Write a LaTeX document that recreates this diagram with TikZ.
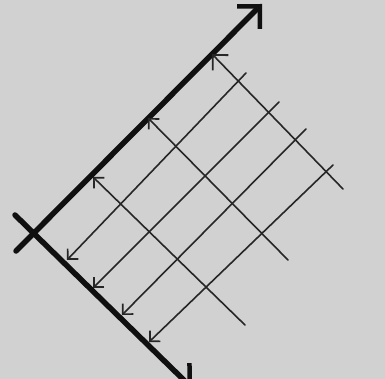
\documentclass[tikz,border=0pt]{standalone}
\usetikzlibrary{arrows.meta}
\definecolor{sketchpaper}{HTML}{D1D1D1}
\definecolor{sketchink}{HTML}{101010}
\definecolor{sketchpencil}{HTML}{262626}

\begin{document}
\begin{tikzpicture}[
    x=1pt, y=-1pt,
    axis/.style={line width=5.5pt, sketchink, line cap=round},
    proj/.style={line width=1.6pt, sketchpencil, line cap=round},
    tip/.style={-{Straight Barb[length=7.5pt, width=15pt, line width=1.7pt]}},
    bigtip/.style={-{Straight Barb[length=16pt, width=32pt, line width=4.5pt]}},
]

% sheet of paper
\fill[sketchpaper] (0,0) rectangle (385,379);
\clip (0,0) rectangle (385,379);

% the two axes
\coordinate (ustart) at (16,251);
\coordinate (uend)   at (262,4);
\coordinate (vstart) at (15,215);
\coordinate (vend)   at (192,388);
\draw[axis, bigtip] (ustart) -- (uend);
\draw[axis, bigtip] (vstart) -- (vend);

% feet on the lower axis, and where their lines stop
\coordinate (a1) at (67,260);  \coordinate (a1e) at (246,73);
\coordinate (a2) at (93,288);  \coordinate (a2e) at (279,102);
\coordinate (a3) at (122,315); \coordinate (a3e) at (306,129);
\coordinate (a4) at (149,342); \coordinate (a4e) at (333,165);

% feet on the upper axis, and where their lines stop
\coordinate (b1) at (93,177);  \coordinate (b1e) at (245,325);
\coordinate (b2) at (148,118); \coordinate (b2e) at (288,260);
\coordinate (b3) at (212,54);  \coordinate (b3e) at (343,189);

\draw[proj, tip] (a1e) -- (a1);
\draw[proj, tip] (a2e) -- (a2);
\draw[proj, tip] (a3e) -- (a3);
\draw[proj, tip] (a4e) -- (a4);

\draw[proj, tip] (b1e) -- (b1);
\draw[proj, tip] (b2e) -- (b2);
\draw[proj, -{Straight Barb[length=11pt, width=22pt, line width=1.8pt]}] (b3e) -- (b3);

\end{tikzpicture}
\end{document}
